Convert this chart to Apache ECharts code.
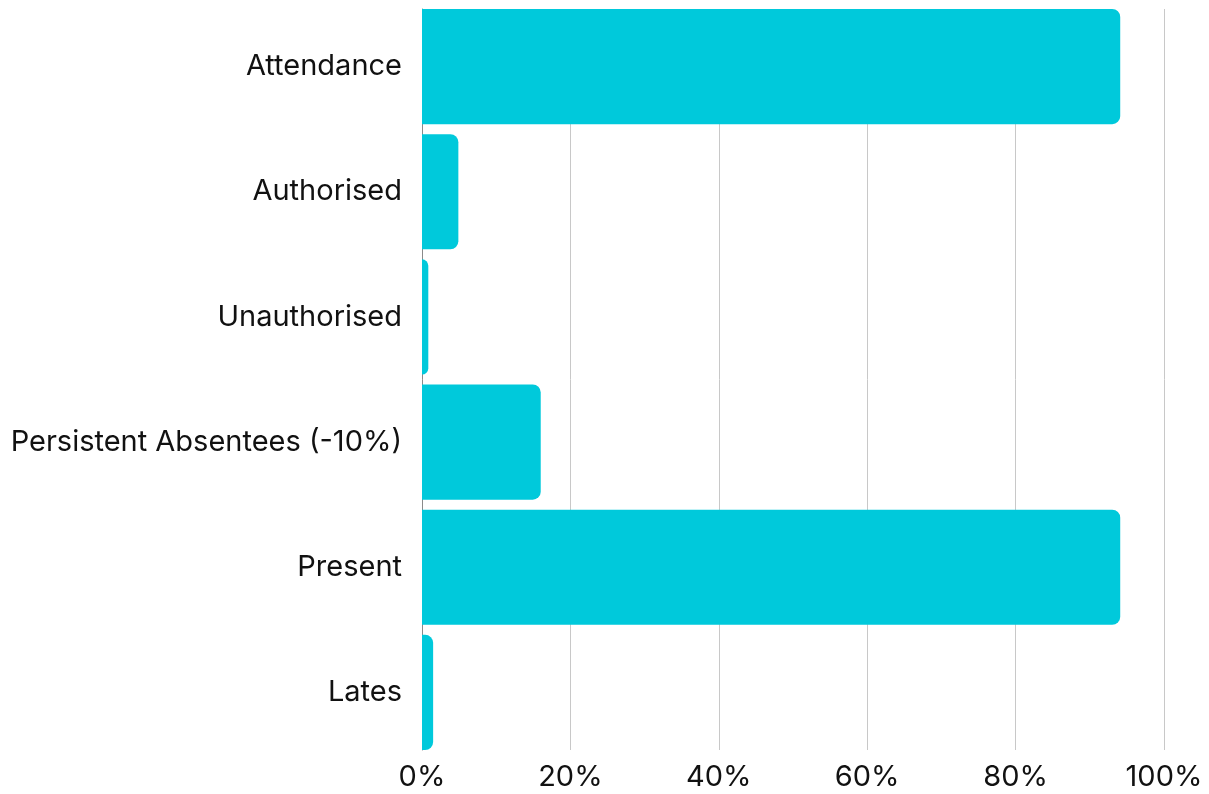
<!DOCTYPE html>
<html>
<head>
<meta charset="utf-8">
<title>Attendance summary</title>
<script src="https://cdn.jsdelivr.net/npm/echarts@6/dist/echarts.min.js"></script>
<style>
  html, body { margin: 0; padding: 0; background: #ffffff; }
  #chart { width: 1209px; height: 794px; }
</style>
</head>
<body>
<div id="chart"></div>
<script>
// Categories, top to bottom
const categories = [
  'Attendance',
  'Authorised',
  'Unauthorised',
  'Persistent Absentees (-10%)',
  'Present',
  'Lates'
];
// Percentage values for each category
const values = [94.1, 4.9, 0.85, 16.0, 94.1, 1.5];
// Value axis ticks
const tickValues = [0, 20, 40, 60, 80, 100];

const FONT = 'Inter, "Noto Sans", sans-serif';
const BAR_COLOR = '#00C9DB';

const chart = echarts.init(document.getElementById('chart'), null, { renderer: 'canvas' });

chart.setOption({
  animation: false,
  backgroundColor: '#ffffff',
  grid: [
    // bars
    { left: 422, right: 45, top: 4, height: 751, containLabel: false },
    // value axis, gridlines and category axis line
    { left: 422, right: 45, top: 9, height: 741, containLabel: false }
  ],
  xAxis: [
    {
      gridIndex: 0, type: 'value', min: 0, max: 100, interval: 20,
      axisLine: { show: false }, axisTick: { show: false },
      axisLabel: { show: false }, splitLine: { show: false }
    },
    {
      gridIndex: 1, type: 'value',
      min: tickValues[0], max: tickValues[tickValues.length - 1], interval: 20,
      axisLine: { show: false }, axisTick: { show: false },
      axisLabel: {
        formatter: v => v + '%',
        color: '#111111', fontFamily: FONT, fontSize: 29, margin: 13
      },
      splitLine: { show: true, lineStyle: { color: '#c8c8c8', width: 1 } }
    }
  ],
  yAxis: [
    {
      gridIndex: 0, type: 'category', data: categories, inverse: true,
      axisLine: { show: false }, axisTick: { show: false },
      axisLabel: {
        color: '#111111', fontFamily: FONT, fontSize: 29, margin: 20
      },
      splitLine: { show: false }
    },
    {
      gridIndex: 1, type: 'category', data: categories, inverse: true,
      axisLine: { show: true, lineStyle: { color: '#8a8a8a', width: 1 } },
      axisTick: { show: false }, axisLabel: { show: false },
      splitLine: { show: false }
    }
  ],
  series: [
    {
      type: 'bar',
      xAxisIndex: 0, yAxisIndex: 0,
      data: values,
      barCategoryGap: '8%',
      itemStyle: { color: BAR_COLOR, borderRadius: [0, 8, 8, 0] },
      z: 3
    }
  ]
});
</script>
</body>
</html>
